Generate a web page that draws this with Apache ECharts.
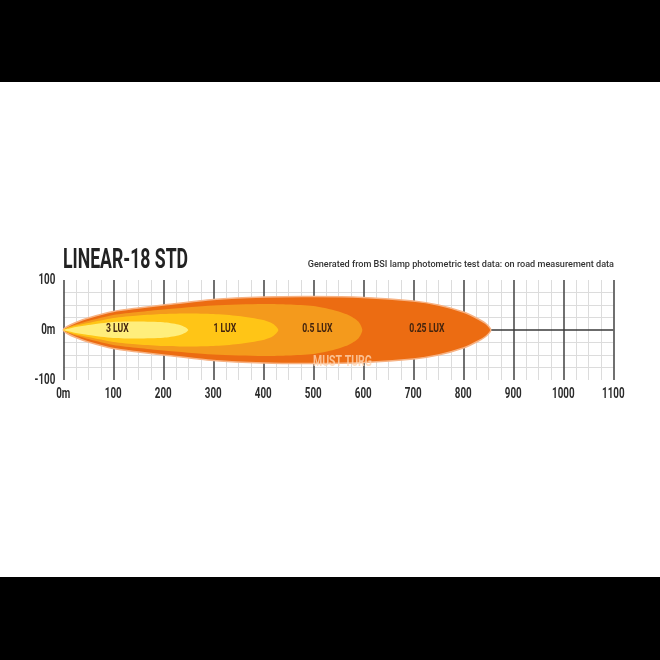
<!DOCTYPE html>
<html>
<head>
<meta charset="utf-8">
<script src="https://cdn.jsdelivr.net/npm/echarts@6/dist/echarts.min.js"></script>
<style>
html,body{margin:0;padding:0;background:#fff;}
#chart{width:660px;height:660px;}
</style>
</head>
<body>
<div id="chart"></div>
<script>
// ---- data (metres) ----
const xTickValues = [0,100,200,300,400,500,600,700,800,900,1000,1100];
const xTickLabels = ['0m','100','200','300','400','500','600','700','800','900','1000','1100'];
const yTickValues = [100,0,-100];
const yTickLabels = ['100','0m','-100'];
// upper edge of each lux zone: [distance, half-width]
const beam025 = [[0,0],[8,7],[25,15],[50,24],[100,37],[150,44],[200,50],[300,61],[400,66],[500,67],[600,65],[700,58],[750,50],[800,36],[830,22],[846,12],[855,0]];
const beam05  = [[0,0],[8,5],[25,11],[50,18],[100,30],[150,36],[200,41],[300,49],[400,52],[450,51],[500,48],[540,40],[570,30],[590,17],[598,0]];
const beam1   = [[0,0],[8,4],[25,9],[50,14],[100,24],[150,29],[200,32],[250,33],[300,32],[350,28],[400,20],[420,12],[430,0]];
const beam3   = [[0,0],[12,3],[25,6],[50,10],[100,16],[150,17],[200,15.5],[230,11],[245,5],[250,0]];
const luxNames = ['3 LUX','1 LUX','0.5 LUX','0.25 LUX'];
const luxX = [108, 323, 508, 727];
const axisLineData = [[0,0],[1100,0]];

const FONT = "'Roboto','Liberation Sans',sans-serif";

function beamSeries(profile, fill, stroke, z){
  return {
    type:'custom', z:z, silent:true, clip:false,
    data: profile,
    renderItem: function(params, api){
      if (params.dataIndex !== 0) return null;
      const pts = [];
      for (let i=0;i<profile.length;i++) pts.push(api.coord([profile[i][0], profile[i][1]]));
      for (let i=profile.length-2;i>0;i--) pts.push(api.coord([profile[i][0], -profile[i][1]]));
      return {type:'polygon', shape:{points:pts, smooth:0.25},
              style:{fill:fill, stroke:stroke||null, lineWidth:stroke?1.5:0}};
    }
  };
}

// narrow bold text through custom series (positions from the axes)
function textSeries(data, place, z){
  return {
    type:'custom', z:z, silent:true, clip:false,
    data: data,
    renderItem: function(params, api){
      const d = data[params.dataIndex];
      const p = place(d, api);
      return {type:'text', x:p[0], y:p[1], scaleX:p[3] || 0.7, scaleY:1,
        style:{text:d.text, fill:p[2], font:"bold " + (p[4]||14) + "px " + FONT,
               textAlign:p[5]||'center', textVerticalAlign:'middle'}};
    }
  };
}

const xLabelData = xTickValues.map(function(v,i){return {value:[v,-100], text:xTickLabels[i]};});
const yLabelData = yTickValues.map(function(v,i){return {value:[0,v], text:yTickLabels[i]};});
const luxData = luxX.map(function(x,i){return {value:[x,0], text:luxNames[i]};});

const chart = echarts.init(document.getElementById('chart'), null, {renderer:'canvas'});
chart.setOption({
  backgroundColor:'#ffffff',
  animation:false,
  grid:{left:63.3, right:46.7, top:280, bottom:280, containLabel:false},
  xAxis:{
    type:'value', min:0, max:1100, interval:100,
    axisLine:{show:false}, axisTick:{show:false}, axisLabel:{show:false},
    splitLine:{show:true, lineStyle:{color:'#4d4d4d', width:1.6}},
    minorTick:{show:false, splitNumber:4},
    minorSplitLine:{show:true, lineStyle:{color:'#dcdcdc', width:1}}
  },
  yAxis:{
    type:'value', min:-100, max:100, interval:100,
    axisLine:{show:false}, axisTick:{show:false}, axisLabel:{show:false},
    splitLine:{show:false},
    minorTick:{show:false, splitNumber:4},
    minorSplitLine:{show:true, lineStyle:{color:'#dcdcdc', width:1}}
  },
  series:[
    {type:'line', data:axisLineData, symbol:'none', z:2, silent:true,
     lineStyle:{color:'#3a3a3a', width:1.6}},
    beamSeries(beam025, '#EC6C12', '#F7B283', 3),
    beamSeries(beam05, '#F49A1C', null, 4),
    beamSeries(beam1, '#FFC516', null, 5),
    beamSeries(beam3, '#FFEE7C', null, 6),
    textSeries(luxData, function(d, api){
      const c = api.coord(d.value); return [c[0], c[1]-1, '#43240e', 0.64, 13.5, 'center'];
    }, 10),
    textSeries(xLabelData, function(d, api){
      const c = api.coord(d.value); return [c[0], c[1]+14, '#2b2b2b', 0.7, 14, 'center'];
    }, 10),
    textSeries(yLabelData, function(d, api){
      const c = api.coord(d.value); return [c[0]-8, c[1], '#2b2b2b', 0.7, 14, 'right'];
    }, 10)
  ],
  graphic:[
    {type:'rect', shape:{x:0,y:0,width:660,height:82}, style:{fill:'#000'}, z:100},
    {type:'rect', shape:{x:0,y:577,width:660,height:83}, style:{fill:'#000'}, z:100},
    {type:'text', x:63, y:261, scaleX:0.63, z:100,
     style:{text:'LINEAR-18 STD', fill:'#222', font:"bold 28px "+FONT, textVerticalAlign:'middle'}},
    {type:'text', right:46, top:260, z:100,
     style:{text:'Generated from BSI lamp photometric test data: on road measurement data',
       fill:'#333', font:"500 9.1px 'Roboto','Noto Sans',sans-serif"}},
    {type:'text', x:313, y:362, scaleX:0.7, z:100,
     style:{text:'MUST TURG', fill:'rgba(255,212,176,0.8)', font:"bold 15px "+FONT, textVerticalAlign:'middle'}}
  ]
});
</script>
</body>
</html>
